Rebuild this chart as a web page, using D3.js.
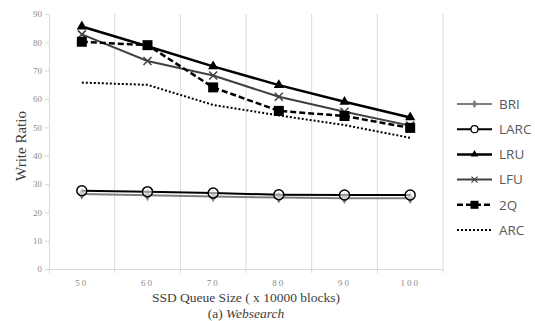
<!DOCTYPE html>
<html>
<head>
<meta charset="utf-8">
<script src="https://cdn.jsdelivr.net/npm/d3@7"></script>
<style>
  body { margin: 0; background: #fff; }
  svg { display: block; }
</style>
</head>
<body>
<div id="chart"></div>
<script>
var width = 535,
    height = 321;

// data
var queueSizes = ["50", "60", "70", "80", "90", "100"];
var yTicks = [0, 10, 20, 30, 40, 50, 60, 70, 80, 90];
var briValues  = [26.5, 26.0, 25.6, 25.2, 25.0, 25.0];
var larcValues = [27.6, 27.3, 26.8, 26.2, 26.1, 26.1];
var lruValues  = [85.6, 78.6, 71.5, 64.9, 59.0, 53.5];
var lfuValues  = [82.8, 73.4, 68.3, 60.8, 55.5, 50.6];
var q2Values   = [80.2, 79.0, 64.1, 55.8, 54.0, 49.8];
var arcValues  = [65.8, 65.0, 57.9, 54.2, 50.8, 46.3];

var series = [
  {name: "BRI",  values: briValues,  color: "#7f7f7f", w: 2,   dash: null,  marker: "diamond"},
  {name: "LARC", values: larcValues, color: "#000",    w: 2,   dash: null,  marker: "circle"},
  {name: "LRU",  values: lruValues,  color: "#000",    w: 2.5, dash: null,  marker: "triangle"},
  {name: "LFU",  values: lfuValues,  color: "#404040", w: 2,   dash: null,  marker: "cross"},
  {name: "2Q",   values: q2Values,   color: "#000",    w: 2.5, dash: "6,3", marker: "square"},
  {name: "ARC",  values: arcValues,  color: "#000",    w: 2,   dash: "2,2", marker: null}
];

var svg = d3.select("#chart").append("svg")
    .attr("width", width)
    .attr("height", height);

var x = d3.scaleBand().domain(queueSizes).range([49, 443]).padding(0);
var y = d3.scaleLinear().domain([0, 90]).range([269, 14]);

// vertical gridlines at band edges
svg.selectAll(".vgrid")
  .data(queueSizes)
  .enter().append("line")
    .attr("x1", function(d) { return x(d) + x.bandwidth(); })
    .attr("x2", function(d) { return x(d) + x.bandwidth(); })
    .attr("y1", y(90)).attr("y2", y(0))
    .attr("stroke", "#d9d9d9").attr("stroke-width", 1);

// y axis
var yAxis = svg.append("g")
    .attr("transform", "translate(49,0)")
    .call(d3.axisLeft(y).tickValues(yTicks).tickSize(4).tickPadding(3));
yAxis.select(".domain").attr("stroke", "#d9d9d9");
yAxis.selectAll(".tick line").attr("stroke", "#d9d9d9");
yAxis.selectAll("text")
    .attr("fill", "#8c8c8c")
    .style("font", "9px 'Liberation Serif', serif");

// x axis
var xAxis = svg.append("g")
    .attr("transform", "translate(0,269)")
    .call(d3.axisBottom(x).tickSize(0).tickPadding(11));
xAxis.select(".domain").attr("stroke", "#d9d9d9");
xAxis.selectAll("text")
    .attr("fill", "#8c8c8c")
    .style("font", "9px 'Liberation Serif', serif")
    .style("letter-spacing", "2px");
svg.selectAll(".xtick")
  .data(queueSizes.concat(["end"]))
  .enter().append("line")
    .attr("x1", function(d, i) { return i < queueSizes.length ? x(d) : x(queueSizes[5]) + x.bandwidth(); })
    .attr("x2", function(d, i) { return i < queueSizes.length ? x(d) : x(queueSizes[5]) + x.bandwidth(); })
    .attr("y1", 269).attr("y2", 273)
    .attr("stroke", "#d9d9d9");

// marker drawing
function drawMarker(sel, type, color) {
  if (type === "diamond") {
    sel.append("path").attr("d", d3.symbol().type(d3.symbolDiamond).size(40)).attr("fill", color);
  } else if (type === "circle") {
    sel.append("circle").attr("r", 5).attr("fill", "#fff").attr("fill-opacity", 0.6)
       .attr("stroke", "#000").attr("stroke-width", 1.5);
  } else if (type === "triangle") {
    sel.append("path").attr("d", d3.symbol().type(d3.symbolTriangle).size(45)).attr("fill", color);
  } else if (type === "cross") {
    sel.append("path").attr("d", "M-4,-4L4,4M-4,4L4,-4").attr("stroke", color).attr("stroke-width", 1.5);
  } else if (type === "square") {
    sel.append("rect").attr("x", -5).attr("y", -5).attr("width", 10).attr("height", 10).attr("fill", color);
  }
}

var line = d3.line()
    .x(function(d, i) { return x(queueSizes[i]) + x.bandwidth() / 2; })
    .y(function(d) { return y(d); });

series.forEach(function(s) {
  svg.append("path")
    .datum(s.values)
    .attr("d", line)
    .attr("fill", "none")
    .attr("stroke", s.color)
    .attr("stroke-width", s.w)
    .attr("stroke-dasharray", s.dash);
  if (s.marker) {
    svg.selectAll(null)
      .data(s.values)
      .enter().append("g")
        .attr("transform", function(d, i) { return "translate(" + (x(queueSizes[i]) + x.bandwidth() / 2) + "," + y(d) + ")"; })
        .each(function() { drawMarker(d3.select(this), s.marker, s.color); });
  }
});

// legend
var legend = svg.selectAll(".legend")
  .data(series)
  .enter().append("g")
    .attr("class", "legend")
    .attr("transform", function(d, i) { return "translate(457," + (104 + i * 25.2) + ")"; });

legend.append("line")
    .attr("x1", 0).attr("x2", 35)
    .attr("stroke", function(d) { return d.color; })
    .attr("stroke-width", function(d) { return d.w; })
    .attr("stroke-dasharray", function(d) { return d.dash; });
legend.append("g")
    .attr("transform", "translate(17.5,0)")
    .each(function(d) {
      var g = d3.select(this);
      if (d.marker === "circle") {
        g.append("circle").attr("r", 3.5).attr("fill", "#fff").attr("stroke", "#000").attr("stroke-width", 1.2);
      } else if (d.marker === "diamond") {
        g.append("path").attr("d", d3.symbol().type(d3.symbolDiamond).size(22)).attr("fill", d.color);
      } else if (d.marker === "triangle") {
        g.append("path").attr("d", d3.symbol().type(d3.symbolTriangle).size(25)).attr("fill", d.color);
      } else if (d.marker === "cross") {
        g.append("path").attr("d", "M-3,-3L3,3M-3,3L3,-3").attr("stroke", d.color).attr("stroke-width", 1.2);
      } else if (d.marker === "square") {
        g.append("rect").attr("x", -4).attr("y", -4).attr("width", 8).attr("height", 8).attr("fill", d.color);
      }
    });
legend.append("text")
    .attr("x", 42)
    .attr("dy", ".35em")
    .attr("fill", "#595959")
    .style("font", "13.5px 'Open Sans', sans-serif")
    .text(function(d) { return d.name; });

// axis titles
svg.append("text")
    .attr("transform", "translate(26,146) rotate(-90)")
    .attr("text-anchor", "middle")
    .attr("fill", "#404040")
    .style("font", "15px 'Liberation Serif', serif")
    .text("Write Ratio");

svg.append("text")
    .attr("x", 246).attr("y", 302)
    .attr("text-anchor", "middle")
    .attr("fill", "#404040")
    .style("font", "13.5px 'Liberation Serif', serif")
    .text("SSD Queue Size ( x 10000 blocks)");

var sub = svg.append("text")
    .attr("x", 246).attr("y", 318)
    .attr("text-anchor", "middle")
    .attr("fill", "#404040")
    .style("font", "13.5px 'Liberation Serif', serif");
sub.append("tspan").text("(a) ");
sub.append("tspan").style("font-style", "italic").text("Websearch");
</script>
</body>
</html>
